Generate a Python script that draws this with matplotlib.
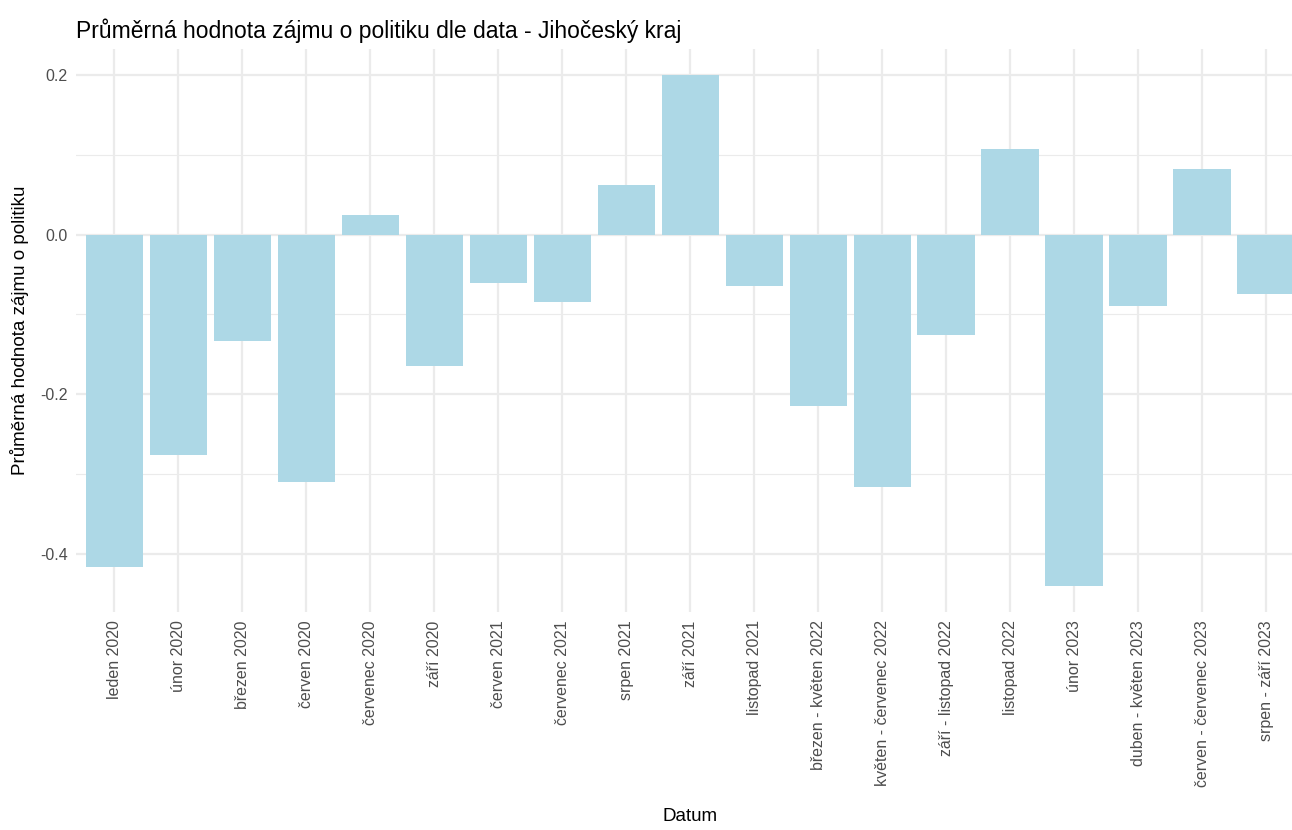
import numpy as np
import matplotlib.pyplot as plt
from matplotlib.ticker import MultipleLocator

# data
categories = ["leden 2020", "únor 2020", "březen 2020", "červen 2020", "červenec 2020",
              "září 2020", "červen 2021", "červenec 2021", "srpen 2021", "září 2021",
              "listopad 2021", "březen - květen 2022", "květen - červenec 2022",
              "září - listopad 2022", "listopad 2022", "únor 2023", "duben - květen 2023",
              "červen - červenec 2023", "srpen - září 2023"]
values = [-0.416, -0.276, -0.133, -0.310, 0.024,
          -0.165, -0.061, -0.084, 0.0625, 0.200,
          -0.065, -0.214, -0.316,
          -0.126, 0.1075, -0.440, -0.090,
          0.0825, -0.075]

plt.rcParams['font.family'] = ['Liberation Sans', 'DejaVu Sans']

fig = plt.figure(figsize=(12.92, 8.30), dpi=100)
# panel runs a bit past the right edge, like the reference
ax = fig.add_axes([0.0588, 0.2627, 0.951, 0.6783])

x = np.arange(len(categories))
ax.bar(x, values, width=0.9, color="#ADD8E6", zorder=2)

lo, hi = min(values), max(values)
pad = (hi - lo) * 0.05
ax.set_ylim(lo - pad, hi + pad)
ax.set_xlim(-0.6, len(categories) - 0.4)

ax.yaxis.set_minor_locator(MultipleLocator(0.1))
ax.set_yticks([-0.4, -0.2, 0.0, 0.2])
ax.set_yticklabels(["-0.4", "-0.2", "0.0", "0.2"])
ax.set_xticks(x)
ax.set_xticklabels(categories, rotation=90, ha="center", va="top")

ax.grid(True, which="major", color="#EBEBEB", linewidth=1.6, zorder=0)
ax.grid(True, which="minor", axis="y", color="#EBEBEB", linewidth=0.8, zorder=0)
ax.set_axisbelow(True)
for s in ax.spines.values():
    s.set_visible(False)
ax.tick_params(which="both", length=0, labelsize=11.5, labelcolor="#4D4D4D")
ax.tick_params(axis="x", pad=6)
ax.tick_params(axis="y", pad=6)

ax.set_xlabel("Datum", fontsize=13.5, color="black", labelpad=15)
ax.set_ylabel("Průměrná hodnota zájmu o politiku", fontsize=13.5, color="black", labelpad=8)
fig.text(0.0588, 0.963, "Průměrná hodnota zájmu o politiku dle data - Jihočeský kraj",
         fontsize=16.5, ha="left", va="center")

fig.savefig("out.png", dpi=100, facecolor="white")
